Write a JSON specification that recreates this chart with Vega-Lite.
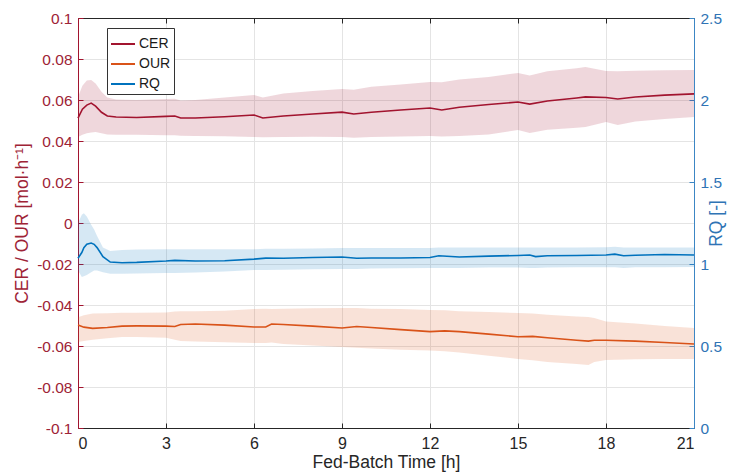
{
  "$schema": "https://vega.github.io/schema/vega-lite/v6.json",
  "width": 616,
  "height": 410,
  "autosize": "none",
  "padding": {"left": 78, "top": 18, "right": 51, "bottom": 48},
  "background": "white",
  "config": {
    "view": {"stroke": null},
    "font": "Liberation Sans",
    "axis": {"labelFont": "Liberation Sans", "titleFont": "Liberation Sans", "titleFontWeight": "normal", "labelFontSize": 15.5, "titleFontSize": 17.5, "gridColor": "#E4E4E4", "gridWidth": 1, "tickSize": -5, "domainWidth": 1},
    "legend": {"labelFont": "Liberation Sans", "labelFontSize": 14, "labelColor": "#1a1a1a"}
  },
  "datasets": {
    "series": [
      {"t": 0, "s": "CER", "m": 0.0512, "lo": 0.0420, "hi": 0.0615},
      {"t": 0.15, "s": "CER", "m": 0.0555, "lo": 0.0430, "hi": 0.0670},
      {"t": 0.3, "s": "CER", "m": 0.0575, "lo": 0.0438, "hi": 0.0695},
      {"t": 0.45, "s": "CER", "m": 0.0585, "lo": 0.0442, "hi": 0.0698},
      {"t": 0.6, "s": "CER", "m": 0.0570, "lo": 0.0444, "hi": 0.0680},
      {"t": 0.8, "s": "CER", "m": 0.0540, "lo": 0.0438, "hi": 0.0640},
      {"t": 1.0, "s": "CER", "m": 0.0522, "lo": 0.0432, "hi": 0.0612},
      {"t": 1.3, "s": "CER", "m": 0.0517, "lo": 0.0430, "hi": 0.0603},
      {"t": 2.0, "s": "CER", "m": 0.0515, "lo": 0.0430, "hi": 0.0600},
      {"t": 3.0, "s": "CER", "m": 0.0520, "lo": 0.0428, "hi": 0.0605},
      {"t": 3.3, "s": "CER", "m": 0.0522, "lo": 0.0428, "hi": 0.0606},
      {"t": 3.5, "s": "CER", "m": 0.0512, "lo": 0.0426, "hi": 0.0598},
      {"t": 4.0, "s": "CER", "m": 0.0512, "lo": 0.0425, "hi": 0.0600},
      {"t": 5.0, "s": "CER", "m": 0.0518, "lo": 0.0423, "hi": 0.0612},
      {"t": 6.0, "s": "CER", "m": 0.0527, "lo": 0.0420, "hi": 0.0624},
      {"t": 6.3, "s": "CER", "m": 0.0512, "lo": 0.0418, "hi": 0.0612},
      {"t": 7.0, "s": "CER", "m": 0.0522, "lo": 0.0420, "hi": 0.0632},
      {"t": 8.0, "s": "CER", "m": 0.0532, "lo": 0.0421, "hi": 0.0644},
      {"t": 9.0, "s": "CER", "m": 0.0541, "lo": 0.0420, "hi": 0.0654},
      {"t": 9.4, "s": "CER", "m": 0.0532, "lo": 0.0416, "hi": 0.0650},
      {"t": 10, "s": "CER", "m": 0.0540, "lo": 0.0420, "hi": 0.0665},
      {"t": 11, "s": "CER", "m": 0.0551, "lo": 0.0422, "hi": 0.0676},
      {"t": 12, "s": "CER", "m": 0.0561, "lo": 0.0424, "hi": 0.0688},
      {"t": 12.4, "s": "CER", "m": 0.0551, "lo": 0.0422, "hi": 0.0686},
      {"t": 13, "s": "CER", "m": 0.0565, "lo": 0.0424, "hi": 0.0700},
      {"t": 14, "s": "CER", "m": 0.0578, "lo": 0.0432, "hi": 0.0712},
      {"t": 15, "s": "CER", "m": 0.0590, "lo": 0.0454, "hi": 0.0732},
      {"t": 15.4, "s": "CER", "m": 0.0580, "lo": 0.0439, "hi": 0.0720},
      {"t": 16, "s": "CER", "m": 0.0595, "lo": 0.0455, "hi": 0.0740},
      {"t": 17, "s": "CER", "m": 0.0610, "lo": 0.0465, "hi": 0.0755},
      {"t": 17.3, "s": "CER", "m": 0.0615, "lo": 0.0468, "hi": 0.0761},
      {"t": 18, "s": "CER", "m": 0.0612, "lo": 0.0493, "hi": 0.0741},
      {"t": 18.4, "s": "CER", "m": 0.0605, "lo": 0.0478, "hi": 0.0740},
      {"t": 19, "s": "CER", "m": 0.0615, "lo": 0.0495, "hi": 0.0743},
      {"t": 20, "s": "CER", "m": 0.0624, "lo": 0.0507, "hi": 0.0745},
      {"t": 21, "s": "CER", "m": 0.0630, "lo": 0.0517, "hi": 0.0746},

      {"t": 0, "s": "OUR", "m": -0.0498, "lo": -0.0580, "hi": -0.0460},
      {"t": 0.2, "s": "OUR", "m": -0.0508, "lo": -0.0575, "hi": -0.0450},
      {"t": 0.5, "s": "OUR", "m": -0.0514, "lo": -0.0570, "hi": -0.0442},
      {"t": 1.0, "s": "OUR", "m": -0.0510, "lo": -0.0562, "hi": -0.0440},
      {"t": 1.5, "s": "OUR", "m": -0.0503, "lo": -0.0556, "hi": -0.0438},
      {"t": 2, "s": "OUR", "m": -0.0502, "lo": -0.0556, "hi": -0.0438},
      {"t": 3, "s": "OUR", "m": -0.0503, "lo": -0.0560, "hi": -0.0436},
      {"t": 3.3, "s": "OUR", "m": -0.0505, "lo": -0.0570, "hi": -0.0432},
      {"t": 3.5, "s": "OUR", "m": -0.0495, "lo": -0.0575, "hi": -0.0430},
      {"t": 4, "s": "OUR", "m": -0.0493, "lo": -0.0578, "hi": -0.0430},
      {"t": 5, "s": "OUR", "m": -0.0498, "lo": -0.0582, "hi": -0.0428},
      {"t": 6, "s": "OUR", "m": -0.0507, "lo": -0.0585, "hi": -0.0420},
      {"t": 6.4, "s": "OUR", "m": -0.0507, "lo": -0.0585, "hi": -0.0418},
      {"t": 6.6, "s": "OUR", "m": -0.0493, "lo": -0.0583, "hi": -0.0420},
      {"t": 7, "s": "OUR", "m": -0.0495, "lo": -0.0590, "hi": -0.0418},
      {"t": 8, "s": "OUR", "m": -0.0503, "lo": -0.0598, "hi": -0.0416},
      {"t": 9, "s": "OUR", "m": -0.0512, "lo": -0.0605, "hi": -0.0415},
      {"t": 9.5, "s": "OUR", "m": -0.0505, "lo": -0.0608, "hi": -0.0415},
      {"t": 10, "s": "OUR", "m": -0.0510, "lo": -0.0612, "hi": -0.0418},
      {"t": 11, "s": "OUR", "m": -0.0520, "lo": -0.0618, "hi": -0.0420},
      {"t": 12, "s": "OUR", "m": -0.0530, "lo": -0.0622, "hi": -0.0424},
      {"t": 12.5, "s": "OUR", "m": -0.0526, "lo": -0.0626, "hi": -0.0426},
      {"t": 13, "s": "OUR", "m": -0.0530, "lo": -0.0632, "hi": -0.0430},
      {"t": 14, "s": "OUR", "m": -0.0542, "lo": -0.0648, "hi": -0.0434},
      {"t": 15, "s": "OUR", "m": -0.0555, "lo": -0.0663, "hi": -0.0439},
      {"t": 15.5, "s": "OUR", "m": -0.0553, "lo": -0.0670, "hi": -0.0442},
      {"t": 16, "s": "OUR", "m": -0.0560, "lo": -0.0678, "hi": -0.0448},
      {"t": 17, "s": "OUR", "m": -0.0572, "lo": -0.0688, "hi": -0.0456},
      {"t": 17.4, "s": "OUR", "m": -0.0576, "lo": -0.0693, "hi": -0.0459},
      {"t": 17.6, "s": "OUR", "m": -0.0572, "lo": -0.0678, "hi": -0.0464},
      {"t": 18, "s": "OUR", "m": -0.0572, "lo": -0.0668, "hi": -0.0480},
      {"t": 19, "s": "OUR", "m": -0.0576, "lo": -0.0665, "hi": -0.0490},
      {"t": 20, "s": "OUR", "m": -0.0583, "lo": -0.0664, "hi": -0.0502},
      {"t": 21, "s": "OUR", "m": -0.0590, "lo": -0.0663, "hi": -0.0512},

      {"t": 0, "s": "RQ", "m": 1.035, "lo": 0.96, "hi": 1.25},
      {"t": 0.13, "s": "RQ", "m": 1.07, "lo": 0.92, "hi": 1.30},
      {"t": 0.2, "s": "RQ", "m": 1.10, "lo": 0.925, "hi": 1.31},
      {"t": 0.3, "s": "RQ", "m": 1.12, "lo": 0.933, "hi": 1.29},
      {"t": 0.45, "s": "RQ", "m": 1.128, "lo": 0.95, "hi": 1.24},
      {"t": 0.55, "s": "RQ", "m": 1.12, "lo": 0.96, "hi": 1.21},
      {"t": 0.65, "s": "RQ", "m": 1.10, "lo": 0.96, "hi": 1.17},
      {"t": 0.85, "s": "RQ", "m": 1.045, "lo": 0.95, "hi": 1.10},
      {"t": 1.1, "s": "RQ", "m": 1.012, "lo": 0.94, "hi": 1.08},
      {"t": 1.5, "s": "RQ", "m": 1.008, "lo": 0.94, "hi": 1.085},
      {"t": 2, "s": "RQ", "m": 1.01, "lo": 0.942, "hi": 1.088},
      {"t": 3, "s": "RQ", "m": 1.018, "lo": 0.945, "hi": 1.09},
      {"t": 3.3, "s": "RQ", "m": 1.022, "lo": 0.945, "hi": 1.09},
      {"t": 4, "s": "RQ", "m": 1.018, "lo": 0.948, "hi": 1.09},
      {"t": 5, "s": "RQ", "m": 1.02, "lo": 0.955, "hi": 1.09},
      {"t": 6, "s": "RQ", "m": 1.03, "lo": 0.963, "hi": 1.09},
      {"t": 6.4, "s": "RQ", "m": 1.036, "lo": 0.963, "hi": 1.093},
      {"t": 7, "s": "RQ", "m": 1.035, "lo": 0.965, "hi": 1.093},
      {"t": 8, "s": "RQ", "m": 1.04, "lo": 0.968, "hi": 1.095},
      {"t": 9, "s": "RQ", "m": 1.043, "lo": 0.97, "hi": 1.097},
      {"t": 9.5, "s": "RQ", "m": 1.035, "lo": 0.97, "hi": 1.097},
      {"t": 10, "s": "RQ", "m": 1.037, "lo": 0.972, "hi": 1.097},
      {"t": 11, "s": "RQ", "m": 1.037, "lo": 0.974, "hi": 1.097},
      {"t": 12, "s": "RQ", "m": 1.04, "lo": 0.976, "hi": 1.097},
      {"t": 12.3, "s": "RQ", "m": 1.05, "lo": 0.976, "hi": 1.1},
      {"t": 13, "s": "RQ", "m": 1.043, "lo": 0.976, "hi": 1.1},
      {"t": 14, "s": "RQ", "m": 1.048, "lo": 0.978, "hi": 1.1},
      {"t": 15, "s": "RQ", "m": 1.052, "lo": 0.978, "hi": 1.1},
      {"t": 15.4, "s": "RQ", "m": 1.055, "lo": 0.975, "hi": 1.1},
      {"t": 15.6, "s": "RQ", "m": 1.045, "lo": 0.975, "hi": 1.1},
      {"t": 16, "s": "RQ", "m": 1.05, "lo": 0.978, "hi": 1.1},
      {"t": 17, "s": "RQ", "m": 1.052, "lo": 0.98, "hi": 1.1},
      {"t": 18, "s": "RQ", "m": 1.055, "lo": 0.98, "hi": 1.102},
      {"t": 18.3, "s": "RQ", "m": 1.06, "lo": 0.98, "hi": 1.105},
      {"t": 18.6, "s": "RQ", "m": 1.05, "lo": 0.975, "hi": 1.1},
      {"t": 19, "s": "RQ", "m": 1.053, "lo": 0.98, "hi": 1.1},
      {"t": 20, "s": "RQ", "m": 1.058, "lo": 0.98, "hi": 1.1},
      {"t": 21, "s": "RQ", "m": 1.055, "lo": 0.982, "hi": 1.1}
    ]
  },
  "data": {"name": "series"},
  "layer": [
    {
      "transform": [{"filter": "datum.s !== 'RQ'"}],
      "encoding": {
        "x": {"field": "t", "type": "quantitative", "scale": {"domain": [0, 21], "nice": false, "zero": false},
          "axis": {"values": [0, 3, 6, 9, 12, 15, 18, 21], "title": "Fed-Batch Time [h]", "grid": true, "domainColor": "#262626", "tickColor": "#262626", "labelColor": "#262626", "titleColor": "#262626", "labelFontSize": 16, "titleFontSize": 17.5, "labelPadding": 12, "titlePadding": 2}},
        "y": {"field": "m", "type": "quantitative", "scale": {"domain": [-0.1, 0.1], "nice": false, "zero": false},
          "axis": {"values": [-0.1, -0.08, -0.06, -0.04, -0.02, 0, 0.02, 0.04, 0.06, 0.08, 0.1], "labelExpr": "replace(format(datum.value, '.2~f'), '\u2212', '-')", "title": "CER / OUR [mol·h\u207b\u00b9]", "grid": true, "domainColor": "#A2142F", "tickColor": "#A2142F", "labelColor": "#9E2336", "titleColor": "#9E2336", "labelFontSize": 15.5, "titleFontSize": 17.5, "labelPadding": 11, "titlePadding": 5}}
      },
      "layer": [
        {
          "transform": [{"filter": "datum.s === 'CER'"}],
          "mark": {"type": "area", "opacity": 0.17, "color": "#A2142F"},
          "encoding": {"y": {"field": "lo", "type": "quantitative"}, "y2": {"field": "hi"}}
        },
        {
          "transform": [{"filter": "datum.s === 'OUR'"}],
          "mark": {"type": "area", "opacity": 0.17, "color": "#D95319"},
          "encoding": {"y": {"field": "lo", "type": "quantitative"}, "y2": {"field": "hi"}}
        },
        {
          "mark": {"type": "line", "strokeWidth": 1.6},
          "encoding": {
            "color": {"field": "s", "type": "nominal", "scale": {"domain": ["CER", "OUR", "RQ"], "range": ["#A2142F", "#D95319", "#0072BD"]},
              "legend": {"title": null, "orient": "none", "legendX": 29, "legendY": 10, "symbolType": "stroke", "symbolSize": 576, "symbolStrokeWidth": 2, "strokeColor": "#333333", "fillColor": "white", "padding": 3, "rowPadding": -8, "labelOffset": 3}}
          }
        }
      ]
    },
    {
      "transform": [{"filter": "datum.s === 'RQ'"}],
      "encoding": {
        "x": {"field": "t", "type": "quantitative",
          "axis": {"orient": "top", "values": [0, 3, 6, 9, 12, 15, 18, 21], "labels": false, "title": null, "grid": false, "domainColor": "#262626", "tickColor": "#262626"}},
        "y": {"field": "m", "type": "quantitative", "scale": {"domain": [0, 2.5], "nice": false, "zero": false},
          "axis": {"orient": "right", "values": [0, 0.5, 1, 1.5, 2, 2.5], "labelExpr": "format(datum.value, '~g')", "title": "RQ [-]", "titleAngle": 270, "grid": false, "domainColor": "#3C86C4", "tickColor": "#3C86C4", "labelColor": "#2F74B5", "titleColor": "#2F74B5", "labelFontSize": 15.5, "titleFontSize": 17.5, "labelPadding": 11, "titlePadding": 4}}
      },
      "layer": [
        {
          "mark": {"type": "area", "opacity": 0.16, "color": "#0072BD"},
          "encoding": {"y": {"field": "lo", "type": "quantitative"}, "y2": {"field": "hi"}}
        },
        {
          "mark": {"type": "line", "strokeWidth": 1.6},
          "encoding": {
            "color": {"field": "s", "type": "nominal"}
          }
        }
      ]
    }
  ],
  "resolve": {"scale": {"y": "independent"}, "axis": {"x": "independent"}}
}
